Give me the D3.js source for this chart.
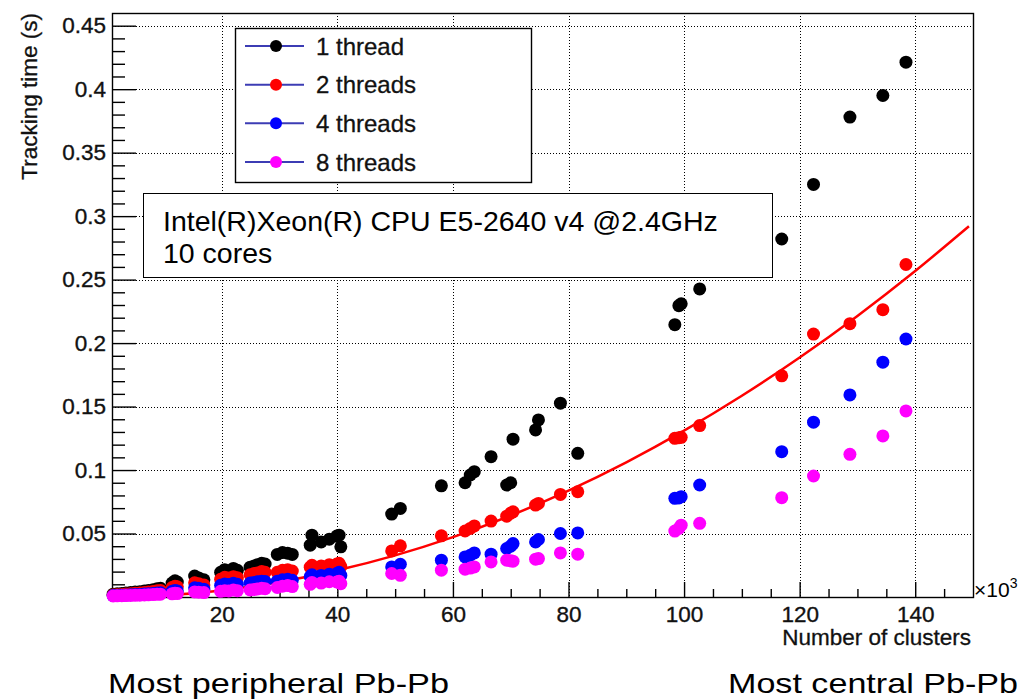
<!DOCTYPE html>
<html>
<head>
<meta charset="utf-8">
<script src="https://cdn.jsdelivr.net/npm/d3@7"></script>
<style>
  html, body { margin: 0; padding: 0; background: #fff; }
  svg { display: block; font-family: "Liberation Sans", Arial, Helvetica, sans-serif; }
</style>
</head>
<body>
<svg id="chart" width="1024" height="700"></svg>
<script>
// ---- data (clusters in units of 10^3, tracking time in seconds) ----
const clusters = [
  1.2, 1.9, 2.7, 3.4, 4.2, 5.0, 5.8, 6.6, 7.3, 8.1, 8.8, 9.4,
  11.4, 11.9, 12.3,
  15.3, 16.0, 16.9,
  19.8, 20.5, 21.2, 22.0, 22.7,
  24.9, 25.6, 26.2, 26.9, 27.5,
  29.6, 30.5, 31.4, 32.2,
  35.3, 35.6, 37.2, 38.6, 39.9, 40.3, 40.6,
  49.4, 50.9, 58.0, 62.1, 63.0, 63.7, 66.6, 69.3, 70.0, 70.4,
  74.3, 74.8, 78.6, 81.6,
  98.4, 99.1, 99.5, 102.7, 116.9, 122.4, 128.7, 134.4, 138.4
];
const time1thread = [
  0.0022, 0.0025, 0.0028, 0.0031, 0.0035, 0.0040, 0.0042, 0.0048, 0.0052, 0.0058, 0.0064, 0.0068,
  0.0110, 0.0128, 0.0118,
  0.0165, 0.0150, 0.0135,
  0.0195, 0.0215, 0.0205, 0.0225, 0.0210,
  0.0235, 0.0245, 0.0255, 0.0265, 0.0260,
  0.0335, 0.0350, 0.0345, 0.0335,
  0.0408, 0.0487, 0.0434, 0.0455, 0.0480, 0.0487, 0.0395,
  0.0653, 0.0698, 0.0876, 0.0900, 0.0961, 0.0987, 0.1105, 0.0882, 0.0900, 0.1243,
  0.1316, 0.1395, 0.1527, 0.1132,
  0.2145, 0.2295, 0.2310, 0.2427, 0.2820, 0.3250, 0.3780, 0.3950, 0.4213
];
const time2threads = [
  0.0016, 0.0018, 0.0020, 0.0023, 0.0026, 0.0030, 0.0031, 0.0036, 0.0040, 0.0044, 0.0049, 0.0052,
  0.0075, 0.0085, 0.0080,
  0.0112, 0.0105, 0.0095,
  0.0140, 0.0155, 0.0150, 0.0160, 0.0152,
  0.0175, 0.0185, 0.0190, 0.0200, 0.0195,
  0.0195, 0.0210, 0.0215, 0.0205,
  0.0235, 0.0250, 0.0245, 0.0255, 0.0260, 0.0265, 0.0240,
  0.0363, 0.0403, 0.0482, 0.0520, 0.0540, 0.0560, 0.0598, 0.0637, 0.0660, 0.0671,
  0.0724, 0.0737, 0.0808, 0.0829,
  0.1250, 0.1255, 0.1258, 0.1350, 0.1742, 0.2071, 0.2153, 0.2263, 0.2619
];
const time4threads = [
  0.0011, 0.0012, 0.0013, 0.0015, 0.0017, 0.0019, 0.0020, 0.0023, 0.0025, 0.0028, 0.0031, 0.0033,
  0.0045, 0.0052, 0.0048,
  0.0072, 0.0068, 0.0062,
  0.0092, 0.0102, 0.0098, 0.0108, 0.0100,
  0.0110, 0.0115, 0.0120, 0.0125, 0.0122,
  0.0125, 0.0135, 0.0140, 0.0132,
  0.0160, 0.0175, 0.0170, 0.0180, 0.0185, 0.0195, 0.0170,
  0.0237, 0.0258, 0.0290, 0.0316, 0.0329, 0.0347, 0.0337, 0.0382, 0.0400, 0.0421,
  0.0434, 0.0453, 0.0500, 0.0505,
  0.0777, 0.0780, 0.0790, 0.0882, 0.1145, 0.1377, 0.1592, 0.1850, 0.2032
];
const time8threads = [
  0.0008, 0.0009, 0.0010, 0.0011, 0.0012, 0.0013, 0.0014, 0.0016, 0.0017, 0.0019, 0.0021, 0.0022,
  0.0025, 0.0030, 0.0027,
  0.0040, 0.0038, 0.0035,
  0.0045, 0.0050, 0.0048, 0.0055, 0.0050,
  0.0055, 0.0060, 0.0063, 0.0068, 0.0065,
  0.0075, 0.0085, 0.0090, 0.0082,
  0.0100, 0.0115, 0.0110, 0.0120, 0.0118, 0.0125, 0.0105,
  0.0185, 0.0171, 0.0211, 0.0219, 0.0228, 0.0237, 0.0276, 0.0290, 0.0285, 0.0282,
  0.0298, 0.0303, 0.0347, 0.0337,
  0.0519, 0.0540, 0.0566, 0.0580, 0.0782, 0.0953, 0.1124, 0.1269, 0.1466
];
// fitted curve on the 2-thread data
const fitClusters = [1, 10, 20, 30, 40, 50, 60, 70, 80, 90, 100, 110, 120, 130, 140, 149.3];
const fitTime     = [0.0000, 0.0013, 0.0052, 0.0118, 0.0210, 0.0328, 0.0472, 0.0642, 0.0838, 0.1061, 0.1310, 0.1585, 0.1886, 0.2214, 0.2568, 0.2920];

const seriesNames  = ["1 thread", "2 threads", "4 threads", "8 threads"];
const seriesColors = ["#000000", "#ff0000", "#0000ff", "#ff00ff"];
const seriesValues = [time1thread, time2threads, time4threads, time8threads];

const xMajorTicks = [20, 40, 60, 80, 100, 120, 140];
const yMajorTicks = [0.05, 0.1, 0.15, 0.2, 0.25, 0.3, 0.35, 0.4, 0.45];
const yTickLabels = ["0.05", "0.1", "0.15", "0.2", "0.25", "0.3", "0.35", "0.4", "0.45"];
const xDomain = [1, 150];
const yDomain = [0, 0.46];

const infoLines = ["Intel(R)Xeon(R) CPU E5-2640 v4 @2.4GHz", "10 cores"];

// ---- layout ----
const L = 112, R = 973, T = 13, B = 597;
const svg = d3.select("#chart");
const x = d3.scaleLinear().domain(xDomain).range([L, R]);
const y = d3.scaleLinear().domain(yDomain).range([B, T]);

const xMinor = d3.range(5, 150, 5).filter(v => xMajorTicks.indexOf(v) < 0);
const yMinor = d3.range(1, 46).map(i => i / 100).filter(v => !yMajorTicks.some(m => Math.abs(m - v) < 1e-9));

// grid
const grid = svg.append("g").attr("stroke", "#000").attr("stroke-width", 1).attr("stroke-dasharray", "1,2");
grid.selectAll(".gx").data(xMajorTicks).join("line")
  .attr("x1", d => Math.round(x(d)) + 0.5).attr("x2", d => Math.round(x(d)) + 0.5)
  .attr("y1", T).attr("y2", B);
grid.selectAll(".gy").data(yMajorTicks).join("line")
  .attr("y1", d => Math.round(y(d)) + 0.5).attr("y2", d => Math.round(y(d)) + 0.5)
  .attr("x1", L).attr("x2", R);

// axes (ticks point inward)
const fontAxis = 22.5;
const yAxisMajor = d3.axisLeft(y).tickValues(yMajorTicks)
  .tickFormat((d, i) => yTickLabels[i]).tickSize(-24).tickPadding(6);
const yAxisMinor = d3.axisLeft(y).tickValues(yMinor).tickFormat("").tickSize(-13);
const xAxisMajor = d3.axisBottom(x).tickValues(xMajorTicks).tickSize(-15).tickPadding(9);
const xAxisMinor = d3.axisBottom(x).tickValues(xMinor).tickFormat("").tickSize(-8);

function styleAxis(g) {
  g.select(".domain").remove();
  g.selectAll("line").attr("stroke", "#000").attr("stroke-width", 1.4);
  g.selectAll("text").attr("font-size", fontAxis).attr("fill", "#111")
    .attr("stroke", "#111").attr("stroke-width", 0.35)
    .attr("font-family", '"Liberation Sans", Arial, sans-serif');
}
svg.append("g").attr("transform", `translate(${L},0)`).call(yAxisMinor).call(styleAxis);
svg.append("g").attr("transform", `translate(${L},0)`).call(yAxisMajor).call(styleAxis);
svg.append("g").attr("transform", `translate(0,${B})`).call(xAxisMinor).call(styleAxis);
svg.append("g").attr("transform", `translate(0,${B})`).call(xAxisMajor).call(styleAxis);

// frame
svg.append("rect").attr("x", L + 0.5).attr("y", T + 0.5).attr("width", R - L).attr("height", B - T)
  .attr("fill", "none").attr("stroke", "#000").attr("stroke-width", 1.4);

// axis titles
const titleStyle = t => t.attr("fill", "#111").attr("stroke", "#111").attr("stroke-width", 0.3);
svg.append("text").attr("transform", `translate(37,${T}) rotate(-90)`)
  .attr("text-anchor", "end").attr("font-size", 22.5).call(titleStyle).text("Tracking time (s)");
svg.append("text").attr("x", 971).attr("y", 645).attr("text-anchor", "end")
  .attr("font-size", 22.5).call(titleStyle).text("Number of clusters");
const mult = svg.append("text").attr("x", 974).attr("y", 597).attr("font-size", 21);
mult.append("tspan").text("\u00d710");
mult.append("tspan").attr("dy", -9).attr("font-size", 14).text("3");

// info box
svg.append("rect").attr("x", 143.5).attr("y", 193.5).attr("width", 629).attr("height", 84)
  .attr("fill", "#fff").attr("stroke", "#000").attr("stroke-width", 1);
svg.selectAll(".info").data(infoLines).join("text")
  .attr("x", 163).attr("y", (d, i) => 231 + i * 32)
  .attr("font-size", 28.5).attr("fill", "#000").text(d => d);

// legend
const lg = svg.append("g");
lg.append("rect").attr("x", 235.5).attr("y", 28.5).attr("width", 296).attr("height", 154)
  .attr("fill", "#fff").attr("stroke", "#000").attr("stroke-width", 1.4);
const rowY = d3.scalePoint().domain(seriesNames).range([46, 162]);
seriesNames.forEach((name, i) => {
  const cy = rowY(name);
  lg.append("line").attr("x1", 245).attr("x2", 304).attr("y1", cy).attr("y2", cy)
    .attr("stroke", "#3c3cb4").attr("stroke-width", 2);
  lg.append("circle").attr("cx", 276).attr("cy", cy).attr("r", 6).attr("fill", seriesColors[i]);
  lg.append("text").attr("x", 316).attr("y", cy + 8.5).attr("font-size", 24)
    .call(titleStyle).text(name);
});

// data
const plot = svg.append("g");
function drawSeries(idx) {
  const pts = clusters.map((c, j) => ({ c: c, t: seriesValues[idx][j] }));
  plot.append("g").selectAll("circle").data(pts).join("circle")
    .attr("cx", d => x(d.c)).attr("cy", d => y(d.t)).attr("r", 6.5)
    .attr("fill", seriesColors[idx]);
}
drawSeries(0);
drawSeries(1);
const fitPts = fitClusters.map((c, j) => [c, fitTime[j]]);
plot.append("path").datum(fitPts)
  .attr("d", d3.line().x(d => x(d[0])).y(d => y(d[1])).curve(d3.curveMonotoneX))
  .attr("fill", "none").attr("stroke", "#ff0000").attr("stroke-width", 2.5);
drawSeries(2);
drawSeries(3);

// bottom captions
svg.append("text").attr("x", 108).attr("y", 693).attr("font-size", 28)
  .attr("textLength", 341).attr("lengthAdjust", "spacingAndGlyphs").text("Most peripheral Pb-Pb");
svg.append("text").attr("x", 728).attr("y", 693).attr("font-size", 28)
  .attr("textLength", 290).attr("lengthAdjust", "spacingAndGlyphs").text("Most central Pb-Pb");
</script>
</body>
</html>
